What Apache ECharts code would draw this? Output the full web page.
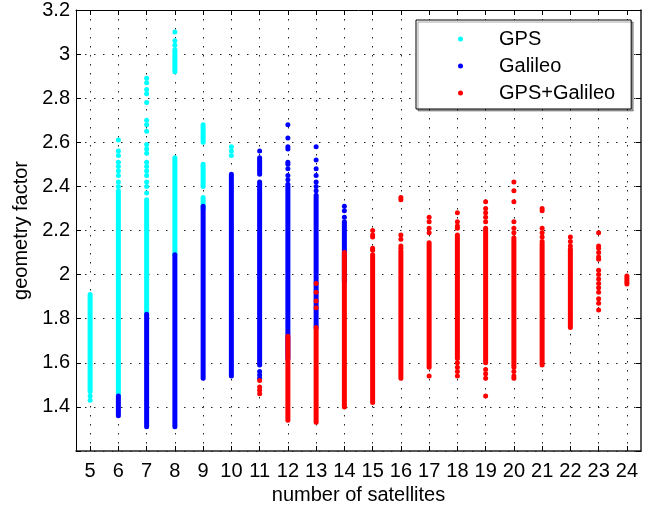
<!DOCTYPE html>
<html>
<head>
<meta charset="utf-8">
<script src="https://cdn.jsdelivr.net/npm/echarts@6/dist/echarts.min.js"></script>
<style>
  html, body { margin: 0; padding: 0; background: #fff; }
  #chart { width: 658px; height: 514px; }
</style>
</head>
<body>
<div id="chart"></div>
<script>
// x ticks: number of satellites
const satellites = [5, 6, 7, 8, 9, 10, 11, 12, 13, 14, 15, 16, 17, 18, 19, 20, 21, 22, 23, 24]
const yTicks = [1.2, 1.4, 1.6, 1.8, 2, 2.2, 2.4, 2.6, 2.8, 3, 3.2]

// dense runs of points: [satellites, lowest, highest]
const gpsBands = [
  [5, 1.47, 1.91], [6, 1.45, 2.38], [7, 1.82, 2.34], [8, 2.09, 2.53], [8, 2.92, 3.02],
  [9, 2.60, 2.68], [9, 2.40, 2.50], [9, 2.30, 2.35],
]
// single points: [satellites, geometry factor]
const gpsPoints = [
  [5, 1.45], [5, 1.43],
  [6, 2.40], [6, 2.42], [6, 2.45], [6, 2.47], [6, 2.49], [6, 2.51], [6, 2.54], [6, 2.56], [6, 2.61],
  [7, 2.37], [7, 2.40], [7, 2.42], [7, 2.45], [7, 2.47], [7, 2.49], [7, 2.51], [7, 2.55], [7, 2.57],
  [7, 2.59], [7, 2.65], [7, 2.68], [7, 2.70], [7, 2.78], [7, 2.82], [7, 2.84], [7, 2.87], [7, 2.89],
  [8, 3.04], [8, 3.06], [8, 3.10],
  [10, 2.54], [10, 2.56], [10, 2.58],
]

const galileoBands = [
  [6, 1.36, 1.45], [7, 1.31, 1.82], [8, 1.31, 2.09], [9, 1.53, 2.31], [10, 1.54, 2.455],
  [11, 1.59, 2.42], [11, 2.455, 2.53], [12, 1.62, 2.41], [13, 1.76, 2.36], [14, 1.97, 2.24],
]
const galileoPoints = [
  [11, 2.56], [11, 1.56], [11, 1.545], [11, 1.53],
  [12, 2.43], [12, 2.45], [12, 2.48], [12, 2.50], [12, 2.51], [12, 2.57], [12, 2.58], [12, 2.62], [12, 2.68],
  [13, 2.38], [13, 2.40], [13, 2.42], [13, 2.45], [13, 2.48], [13, 2.52], [13, 2.58],
  [14, 2.26], [14, 2.29], [14, 2.31],
]

const combinedBands = [
  [12, 1.34, 1.72], [13, 1.33, 1.76], [14, 1.40, 2.10], [15, 1.42, 2.09], [16, 1.53, 2.107],
  [17, 1.58, 2.145], [18, 1.62, 2.18], [19, 1.60, 2.21], [20, 1.58, 2.167], [21, 1.59, 2.14],
  [22, 1.76, 2.115], [24, 1.957, 1.994],
]
const combinedPoints = [
  [11, 1.52], [11, 1.49], [11, 1.475], [11, 1.46],
  [13, 1.96], [13, 1.92], [13, 1.88], [13, 1.85],
  [15, 2.20], [15, 2.18], [15, 2.17], [15, 2.12], [15, 2.11],
  [16, 2.35], [16, 2.34], [16, 2.18], [16, 2.16], [16, 2.13], [16, 2.12],
  [17, 2.26], [17, 2.24], [17, 2.21], [17, 2.19], [17, 1.54],
  [18, 2.28], [18, 2.24], [18, 2.22], [18, 2.21], [18, 1.60], [18, 1.58], [18, 1.56], [18, 1.54],
  [19, 2.33], [19, 2.30], [19, 2.28], [19, 2.26], [19, 2.24], [19, 1.57], [19, 1.55], [19, 1.53], [19, 1.45],
  [20, 2.42], [20, 2.38], [20, 2.33], [20, 2.24], [20, 2.21], [20, 2.19], [20, 1.56], [20, 1.54], [20, 1.53],
  [21, 2.30], [21, 2.29], [21, 2.21], [21, 2.19], [21, 2.17], [21, 2.15],
  [22, 2.17], [22, 2.15], [22, 2.13],
  [23, 2.19], [23, 2.13], [23, 2.12], [23, 2.10], [23, 2.08], [23, 2.07], [23, 2.02], [23, 2.00],
  [23, 1.98], [23, 1.96], [23, 1.94], [23, 1.92], [23, 1.89], [23, 1.87], [23, 1.84],
]

const FONT = '"Liberation Sans", Arial, sans-serif'
const DOT = 5

// vertical capsule covering a dense run of dots
function bandRenderer(color) {
  return function (params, api) {
    const top = api.coord([api.value(0), api.value(2)])
    const bottom = api.coord([api.value(0), api.value(1)])
    return {
      type: 'rect',
      shape: {
        x: top[0] - DOT / 2,
        y: top[1] - DOT / 2,
        width: DOT,
        height: bottom[1] - top[1] + DOT,
        r: DOT / 2,
      },
      style: { fill: color },
    }
  }
}

function bandSeries(name, data, color) {
  return {
    name,
    type: 'custom',
    data,
    itemStyle: { color },
    renderItem: bandRenderer(color),
    encode: { x: 0, y: [1, 2] },
    silent: true,
  }
}

function pointSeries(name, data, color) {
  return {
    name,
    type: 'scatter',
    data,
    symbol: 'circle',
    symbolSize: DOT,
    itemStyle: { color, opacity: 1 },
    silent: true,
  }
}

const gridLine = { show: true, lineStyle: { color: '#222', width: 1, type: [1.5, 7.5] } }

const chart = echarts.init(document.getElementById('chart'), null, { renderer: 'canvas' })
chart.setOption({
  animation: false,
  backgroundColor: '#fff',
  grid: { left: 76, right: 17, top: 9, bottom: 63 },
  legend: {
    orient: 'vertical',
    left: 416,
    top: 20,
    padding: [8, 16, 5, 42],
    itemGap: 5,
    itemWidth: 5,
    itemHeight: 5,
    backgroundColor: '#fff',
    borderColor: '#000',
    borderWidth: 1,
    shadowColor: 'rgba(0,0,0,0.35)',
    shadowOffsetX: 2,
    shadowOffsetY: 2,
    textStyle: { fontFamily: FONT, fontSize: 20, color: '#000', lineHeight: 22, padding: [0, 0, 0, 31] },
    data: [
      { name: 'GPS', icon: 'circle' },
      { name: 'Galileo', icon: 'circle' },
      { name: 'GPS+Galileo', icon: 'circle' },
    ],
  },
  xAxis: [
    {
      type: 'value',
      min: 4.5,
      max: 24.5,
      name: 'number of satellites',
      nameLocation: 'middle',
      nameGap: 34,
      nameTextStyle: { fontFamily: FONT, fontSize: 20, color: '#000' },
      axisLine: { lineStyle: { color: '#222', width: 1.5 } },
      axisTick: { inside: true, length: 5, customValues: satellites, lineStyle: { color: '#000' } },
      axisLabel: { customValues: satellites, fontFamily: FONT, fontSize: 20, color: '#000', margin: 10 },
      splitLine: gridLine,
    },
    {
      type: 'value',
      position: 'top',
      min: 4.5,
      max: 24.5,
      axisLine: { lineStyle: { color: '#000', width: 1 } },
      axisTick: { inside: true, length: 5, customValues: satellites, lineStyle: { color: '#000' } },
      axisLabel: { show: false },
      splitLine: { show: false },
    },
  ],
  yAxis: [
    {
      type: 'value',
      min: yTicks[0],
      max: yTicks[yTicks.length - 1],
      interval: 0.2,
      name: 'geometry factor',
      nameLocation: 'middle',
      nameGap: 43,
      nameTextStyle: { fontFamily: FONT, fontSize: 20, color: '#000' },
      axisLine: { lineStyle: { color: '#000', width: 1 } },
      axisTick: { inside: true, length: 5, lineStyle: { color: '#000' } },
      axisLabel: {
        fontFamily: FONT, fontSize: 20, color: '#000', margin: 6,
        formatter: (v) => (v < yTicks[1] - 0.01 ? '' : String(+v.toFixed(1))),
      },
      splitLine: gridLine,
    },
    {
      type: 'value',
      position: 'right',
      min: yTicks[0],
      max: yTicks[yTicks.length - 1],
      interval: 0.2,
      axisLine: { show: true, lineStyle: { color: '#222', width: 1.5 } },
      axisTick: { show: true, inside: true, length: 5, lineStyle: { color: '#000' } },
      axisLabel: { show: false },
      splitLine: { show: false },
    },
  ],
  series: [
    bandSeries('GPS', gpsBands, '#00ffff'),
    pointSeries('GPS', gpsPoints, '#00ffff'),
    bandSeries('Galileo', galileoBands, '#0000ff'),
    pointSeries('Galileo', galileoPoints, '#0000ff'),
    bandSeries('GPS+Galileo', combinedBands, '#ff0000'),
    pointSeries('GPS+Galileo', combinedPoints, '#ff0000'),
  ],
})
</script>
</body>
</html>
